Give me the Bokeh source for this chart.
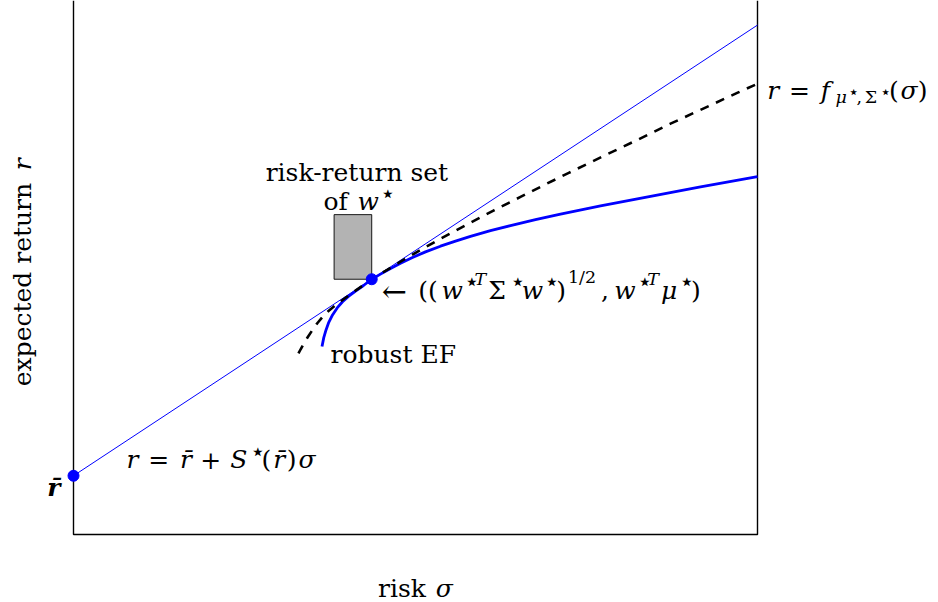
import math

from bokeh.plotting import figure
from bokeh.models import Range1d, Label
from bokeh.embed import file_html
from bokeh.resources import INLINE

# ---------------------------------------------------------------------------
# Data: risk sigma on x, expected return r on y (arbitrary units)
# ---------------------------------------------------------------------------
r_bar = 0.110          # intercept r-bar
S_star = 0.844         # slope S*(r-bar) of the tangent line
w_sigma = 0.436        # risk of the robust optimal portfolio w*
w_ret = 0.478          # return of w*  (= r_bar + S_star * w_sigma)

sigma_span = [0.0, 1.0]
ret_span = [0.0, 1.0]

# efficient frontier of the worst-case model  r = f_{mu*,Sigma*}(sigma)
nominal_sigma = [0.3289, 0.3319, 0.3363, 0.3421, 0.3494, 0.3567, 0.3640, 0.3728,
                 0.3830, 0.3977, 0.4123, 0.4240, 0.436, 0.4561, 0.4781, 0.5073,
                 0.5365, 0.5756, 0.6140, 0.6535, 0.6925, 0.7241, 0.7753, 0.8241,
                 0.8728, 0.9215, 0.9703, 1.0]
nominal_ret = [0.3390, 0.3464, 0.3567, 0.3689, 0.3830, 0.3961, 0.4073, 0.4185,
               0.4292, 0.4433, 0.4566, 0.4669, 0.478, 0.4936, 0.5109, 0.5328,
               0.5537, 0.5807, 0.6066, 0.6322, 0.6573, 0.6772, 0.7090, 0.7388,
               0.7693, 0.7981, 0.8270, 0.8440]

# robust efficient frontier
robust_sigma = [0.3633, 0.3659, 0.3692, 0.3732, 0.3787, 0.3855, 0.3933, 0.4020,
                0.4123, 0.4240, 0.436, 0.4488, 0.4635, 0.4781, 0.4956, 0.5146,
                0.5365, 0.5585, 0.5804, 0.6096, 0.6389, 0.6754, 0.7120, 0.7705,
                0.8436, 0.9167, 1.0]
robust_ret = [0.3519, 0.3687, 0.3831, 0.3974, 0.4112, 0.4243, 0.4358, 0.4459,
              0.4558, 0.4663, 0.478, 0.4876, 0.4983, 0.5081, 0.5187, 0.5292,
              0.5399, 0.5494, 0.5582, 0.5689, 0.5785, 0.5895, 0.6000, 0.6154,
              0.6333, 0.6509, 0.6704]

# risk-return set of w*
set_sigma = [0.381, 0.436]
set_ret = [0.478, 0.599]

# ---------------------------------------------------------------------------
# Styling helpers
# ---------------------------------------------------------------------------
BLUE = "#0000ff"
FONT = "DejaVu Serif"
BASE_PX = 25.0      # drawn size of normal text
EM = 30.0           # spacing unit used to lay out formula pieces

# advance widths (em) for roman and math-italic pieces
RM = {'a': .5, 'b': .556, 'c': .444, 'd': .556, 'e': .444, 'f': .306, 'i': .278,
      'k': .528, 'n': .556, 'o': .5, 'p': .556, 'r': .392, 's': .394, 't': .389,
      'u': .556, 'x': .528, 'E': .681, 'F': .653, ' ': .333, '-': .333,
      '(': .389, ')': .389, ',': .278, '=': .778, '+': .778, '1': .5, '2': .5,
      '/': .5, 'Σ': .722, '⋆': .5, '←': 1.0, '\u0304': 0.0}
MI = {'r': .451, 'w': .716, 'σ': .571, 'μ': .603, 'f': .49, 'S': .613,
      'T': .584, '\u0304': 0.0}
STYLE = {"rm": "normal", "it": "italic", "bi": "bold italic"}


def text_em(t, st):
    table = MI if st == "it" else RM
    return sum(table.get(ch, 0.5) for ch in t)


def add_text(p, x, y, text, size, dx=0.0, dy=0.0, style="normal", align="left",
             angle=0.0):
    p.add_layout(Label(x=x, y=y, x_offset=dx, y_offset=dy, angle=angle, text=text,
                       text_font=FONT, text_font_size=f"{size:.1f}px",
                       text_font_style=style, text_color="black",
                       text_align=align, text_baseline="alphabetic"))


def place_runs(p, x, y, parts, dx=0.0, dy=0.0, align="left", vertical=False):
    """Lay out a formula from pieces (text, style, scale, rise, pre, post)."""
    total = 0.0
    for t, st, sc, rise, pre, post in parts:
        total += (pre + text_em(t, st) * sc + post) * EM
    cursor = -total / 2 if align == "center" else 0.0
    for t, st, sc, rise, pre, post in parts:
        cursor += pre * EM
        size = BASE_PX * sc
        lift = rise * EM
        if t == "⋆":              # the star glyph is small in its em box
            size *= 1.45
            lift -= 2.0
        if vertical:
            xo, yo, ang = dx - lift, dy + cursor, math.pi / 2
        else:
            xo, yo, ang = dx + cursor, dy + lift, 0.0
        add_text(p, x, y, t, size, xo, yo, STYLE[st], "left", ang)
        cursor += (text_em(t, st) * sc + post) * EM


def P(t, st="rm", sc=1.0, rise=0.0, pre=0.0, post=0.0):
    return (t, st, sc, rise, pre, post)


SUP = 0.36
BAR = "\u0304"

# ---------------------------------------------------------------------------
# Figure: the frame spans the whole canvas; the box is drawn as a line
# ---------------------------------------------------------------------------
W, H = 938, 602
LEFT, BOTTOM = 73, 68          # margins of the drawn box, in pixels
BOX_W, BOX_H = 684, 534        # size of the drawn box, in pixels
x_lo = sigma_span[0] - LEFT / BOX_W * (sigma_span[1] - sigma_span[0])
x_hi = sigma_span[0] + (W - LEFT) / BOX_W * (sigma_span[1] - sigma_span[0])
y_lo = ret_span[0] - BOTTOM / BOX_H * (ret_span[1] - ret_span[0])
y_hi = ret_span[1]

p = figure(width=W, height=H, x_range=Range1d(x_lo, x_hi),
           y_range=Range1d(y_lo, y_hi), x_axis_type=None, y_axis_type=None,
           toolbar_location=None, output_backend="svg", min_border=0)
p.outline_line_color = None
p.grid.visible = False
p.background_fill_color = "white"
p.border_fill_color = "white"

# open box: left, bottom and right sides
p.line([sigma_span[0], sigma_span[0], sigma_span[1], sigma_span[1]],
       [ret_span[1], ret_span[0], ret_span[0], ret_span[1]],
       line_color="black", line_width=1.4)

# tangent line r = r_bar + S* sigma
tangent_ret = [r_bar + S_star * s for s in sigma_span]
p.line(sigma_span, tangent_ret, line_color=BLUE, line_width=1.0)

# risk-return set of w*
p.quad(left=set_sigma[0], right=set_sigma[1], bottom=set_ret[0], top=set_ret[1],
       fill_color="#b3b3b3", line_color="black", line_width=0.9)

# robust efficient frontier and worst-case frontier
p.line(robust_sigma, robust_ret, line_color=BLUE, line_width=2.8)
p.line(nominal_sigma, nominal_ret, line_color="black", line_width=2.6,
       line_dash="9 8")

# r-bar and w*
p.scatter([sigma_span[0], w_sigma], [r_bar, w_ret], size=11, color=BLUE)

# ---------------------------------------------------------------------------
# Annotations
# ---------------------------------------------------------------------------
set_mid = (set_sigma[0] + set_sigma[1]) / 2
add_text(p, set_mid, set_ret[1], "risk-return set", BASE_PX, dx=4, dy=42,
         align="center")
place_runs(p, set_mid, set_ret[1],
           [P("of", post=.333), P("w", "it", post=.03), P("⋆", sc=.7, rise=SUP)],
           dx=4, dy=13, align="center")

place_runs(p, robust_sigma[0], robust_ret[0], [P("robust EF")], dx=8.5, dy=-8)

# arrow and coordinates of w*
add_text(p, w_sigma, w_ret, "←", 30, dx=10, dy=-12)
place_runs(p, w_sigma, w_ret, [
    P("(("), P("w", "it", post=.03), P("⋆", sc=.7, rise=SUP),
    P("T", "it", sc=.7, rise=SUP, post=.05), P("Σ"),
    P("⋆", sc=.7, rise=SUP, post=.05), P("w", "it", post=.03),
    P("⋆", sc=.7, rise=SUP, post=.05), P(")"),
    P("1/2", sc=.7, rise=.45, post=.05), P(",", post=.167),
    P("w", "it", post=.03), P("⋆", sc=.7, rise=SUP),
    P("T", "it", sc=.7, rise=SUP, post=.05), P("μ", "it"),
    P("⋆", sc=.7, rise=SUP, post=.05), P(")"),
], dx=46.5, dy=-11)

# tangent line formula
place_runs(p, sigma_span[0], r_bar, [
    P("r", "it"), P("=", pre=.278, post=.278), P("r" + BAR, "it"),
    P("+", pre=.222, post=.222), P("S", "it", post=.032),
    P("⋆", sc=.7, rise=SUP, post=.05), P("("), P("r" + BAR, "it"), P(")"),
    P("σ", "it"),
], dx=53, dy=16)

# worst-case frontier formula
place_runs(p, nominal_sigma[-1], nominal_ret[-1], [
    P("r", "it"), P("=", pre=.278, post=.278), P("f", "it"),
    P("μ", "it", sc=.7, rise=-.22), P("⋆", sc=.5, rise=.02, post=.03),
    P(",", sc=.7, rise=-.22, post=.08), P("Σ", sc=.7, rise=-.22),
    P("⋆", sc=.5, rise=.02, post=.05), P("("), P("σ", "it"), P(")"),
], dx=9.7, dy=-6.7)

# r-bar tick label
add_text(p, sigma_span[0], r_bar, "r" + BAR, BASE_PX, dx=-13, dy=-12,
         style="bold italic", align="right")

# axis titles
place_runs(p, (sigma_span[0] + sigma_span[1]) / 2, ret_span[0],
           [P("risk", post=.333), P("σ", "it")], dy=-54, align="center")
place_runs(p, sigma_span[0], (ret_span[0] + ret_span[1]) / 2,
           [P("expected return", post=.333), P("r", "it")],
           dx=-51, dy=-4, align="center", vertical=True)

open("out.html", "w").write(file_html(p, INLINE))
